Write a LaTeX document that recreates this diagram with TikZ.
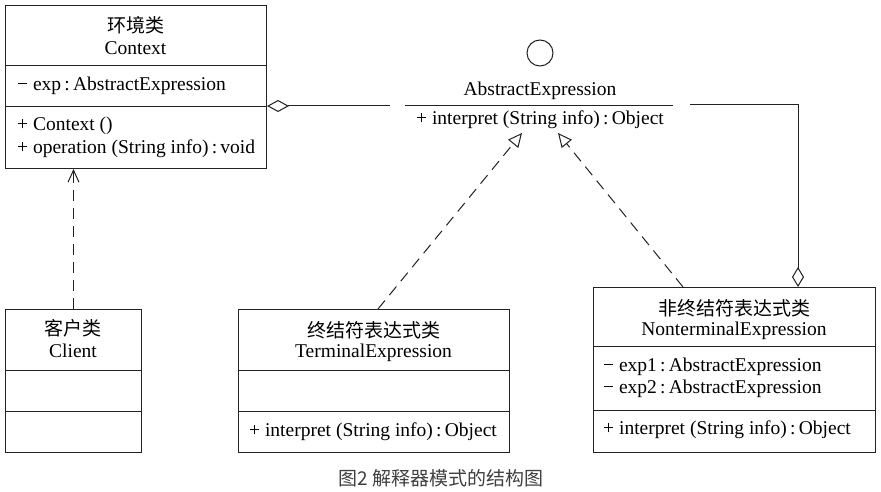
\documentclass[tikz,border=0pt]{standalone}
\usepackage{fontspec}
\setmainfont{Liberation Serif}
\newfontfamily\cjk{Noto Sans CJK SC}
\usetikzlibrary{arrows.meta}
\definecolor{linecol}{HTML}{222222}
\definecolor{capcol}{HTML}{404040}
\newcommand{\cln}{\,:\,}
\begin{document}
\begin{tikzpicture}[x=1pt,y=-1pt,
  box/.style={draw=linecol, line width=1pt, rectangle, anchor=north west, inner sep=0pt},
  sep/.style={draw=linecol, line width=1pt},
  txt/.style={font=\fontsize{19.5}{23}\selectfont, inner sep=0pt, text=black},
  ctxt/.style={font=\cjk\fontsize{19}{23}\selectfont, inner sep=0pt, text=black},
  ltxt/.style={txt, anchor=west},
  agg/.style={draw=linecol, line width=1pt},
  gen/.style={draw=linecol, line width=1pt, dash pattern=on 11pt off 7pt, -{Triangle[open, length=14pt, width=13pt, line width=1pt]}},
  dep/.style={draw=linecol, line width=1pt, dash pattern=on 11pt off 7pt, -{Straight Barb[length=12pt, width=11pt, line width=1pt]}}
]
\useasboundingbox[fill=white] (0,0) rectangle (881,492);

% Context
\node[box, minimum width=261pt, minimum height=163pt] (ctx) at (5,5) {};
\draw[sep] (ctx.west |- 0,66) -- (ctx.east |- 0,66);
\draw[sep] (ctx.west |- 0,107) -- (ctx.east |- 0,107);
\node[ctxt] (ctxcn) at (135.5,25) {环境类};
\node[txt] (ctxen) at (135.5,48) {Context};
\node[ltxt] (ctxa) at (17,86) {− exp\cln AbstractExpression};
\node[ltxt] (ctxm1) at (17,126) {+ Context ()};
\node[ltxt] (ctxm2) at (17,149) {+ operation (String info)\cln void};

% Client
\node[box, minimum width=136pt, minimum height=143pt] (cli) at (5,309) {};
\draw[sep] (cli.west |- 0,370) -- (cli.east |- 0,370);
\draw[sep] (cli.west |- 0,411) -- (cli.east |- 0,411);
\node[ctxt] (clicn) at (73,328) {客户类};
\node[txt] (clien) at (73,351) {Client};

% Terminal
\node[box, minimum width=271pt, minimum height=143pt] (term) at (238,309) {};
\draw[sep] (term.west |- 0,370) -- (term.east |- 0,370);
\draw[sep] (term.west |- 0,411) -- (term.east |- 0,411);
\node[ctxt] (termcn) at (373.5,330) {终结符表达式类};
\node[txt] (termen) at (373.5,353) {TerminalExpression};
\node[ltxt] (termm) at (249,432) {+ interpret (String info)\cln Object};

% Nonterminal
\node[box, minimum width=282pt, minimum height=165pt] (nont) at (593,287) {};
\draw[sep] (nont.west |- 0,346) -- (nont.east |- 0,346);
\draw[sep] (nont.west |- 0,410) -- (nont.east |- 0,410);
\node[ctxt] (nontcn) at (734,308) {非终结符表达式类};
\node[txt] (nonten) at (734,331) {NonterminalExpression};
\node[ltxt] (nonta1) at (603,367) {− exp1\cln AbstractExpression};
\node[ltxt] (nonta2) at (603,389) {− exp2\cln AbstractExpression};
\node[ltxt] (nontm) at (603,430) {+ interpret (String info)\cln Object};

% AbstractExpression interface
\node[draw=linecol, line width=1pt, circle, minimum size=26pt, inner sep=0pt] (ifc) at (540,53) {};
\node[txt] (absname) at (540,91) {AbstractExpression};
\coordinate (absL) at (405,106);
\coordinate (absR) at (673,106);
\draw[sep] (absL) -- (absR);
\node[txt] (absm) at (540,120) {+ interpret (String info)\cln Object};

% aggregation Context -> AbstractExpression
\coordinate (aggA) at (390,106);
\draw[agg, {Diamond[open, length=22pt, width=12pt, line width=1pt]}-] (ctx.east |- 0,106) -- (aggA);

% aggregation Nonterminal -> AbstractExpression
\coordinate (aggB) at (690,105);
\coordinate (aggC) at (798,105);
\draw[agg, -{Diamond[open, length=20pt, width=12pt, line width=1pt]}] (aggB) -- (aggC) -- (aggC |- nont.north);

% generalizations
\coordinate (tipL) at (522,133);
\coordinate (tipR) at (558,133);
\draw[gen] (378,309) coordinate (termtop) -- (tipL);
\draw[gen] (683,287) coordinate (nonttop) -- (tipR);

% dependency Client -> Context
\draw[dep] (cli.north) -- (cli.north |- ctx.south);

% caption
\node[font=\cjk\fontsize{19}{23}\selectfont, text=capcol, inner sep=0pt] (cap) at (441,478) {图2 解释器模式的结构图};
\end{tikzpicture}
\end{document}
